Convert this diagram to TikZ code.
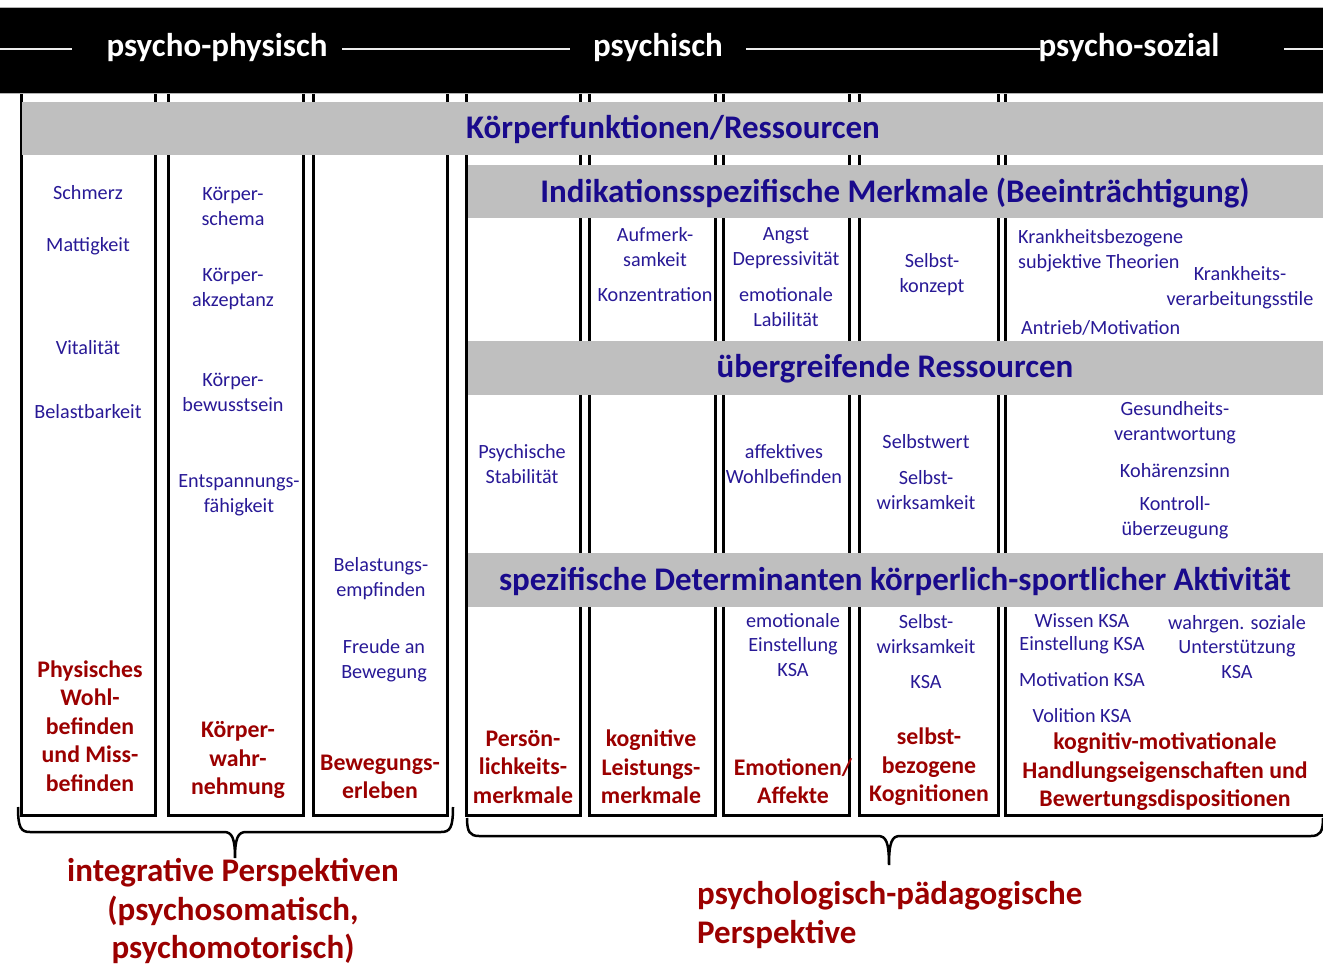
\documentclass[tikz,border=0pt]{standalone}
\usepackage{fontspec}
\setmainfont{Carlito}
\definecolor{bandgray}{RGB}{191,191,191}
\definecolor{itemblue}{RGB}{40,25,150}
\definecolor{headblue}{RGB}{25,10,140}
\definecolor{keyred}{RGB}{155,0,0}

\begin{document}
\begin{tikzpicture}[x=1pt,y=-1pt,
    box/.style={draw=black,line width=3pt},
    rule/.style={draw=white!85!gray,line width=1.3pt},
    bracket/.style={draw=black,line width=2.5pt},
    toptitle/.style={font=\fontsize{33}{36}\selectfont\bfseries,text=white,inner sep=0pt},
    head/.style={font=\fontsize{33}{36}\selectfont\bfseries,text=headblue,inner sep=0pt},
    item/.style={font=\fontsize{20.2}{24.8}\selectfont,text=itemblue,align=center,inner sep=0pt},
    key/.style={font=\fontsize{23.8}{28.5}\selectfont\bfseries,text=keyred,align=center,inner sep=0pt},
    persp/.style={font=\fontsize{33}{38.5}\selectfont\bfseries,text=keyred,inner sep=0pt}]

     \useasboundingbox (0,0) rectangle (1323,968);
     \clip (0,0) rectangle (1323,968);

     %Columns psycho-physisch
     \draw[box] (21,80) rectangle (155,815);
     \draw[box] (168,80) rectangle (303,815);
     \draw[box] (313,80) rectangle (447,815);

     %Columns psychisch and psycho-sozial
     \draw[box] (466,80) rectangle (580,815);
     \draw[box] (589,80) rectangle (715,815);
     \draw[box] (723,80) rectangle (849,815);
     \draw[box] (859,80) rectangle (998,815);
     \draw[box] (1005,80) rectangle (1340,815);

     %Grey bands
     \fill[bandgray] (22,102) rectangle (1330,155);
     \fill[bandgray] (467.5,165) rectangle (1330,218);
     \fill[bandgray] (467.5,341) rectangle (1330,395);
     \fill[bandgray] (467.5,553) rectangle (1330,607);

     %Top bar
     \draw[fill=black,draw=gray!60,line width=.8pt] (-5,7) rectangle (1330,93);
     \draw[rule](0,49)--(72,49);
     \draw[rule](342,49)--(570,49);
     \draw[rule](746,49)--(1040,49);
     \draw[rule](1284,49)--(1330,49);
     \node[toptitle] (phys) at (217,48) {psycho-physisch};
     \node[toptitle] (psych) at (658,48) {psychisch};
     \node[toptitle] (soz) at (1129,48) {psycho-sozial};

     %Band titles
     \node[head] (kf) at (673,129) {Körperfunktionen/Ressourcen};
     \node[head] (ind) at (895,193) {Indikationsspezifische Merkmale (Beeinträchtigung)};
     \node[head] (ueb) at (895,369) {übergreifende Ressourcen};
     \node[head] (det) at (895,581) {spezifische Determinanten körperlich-sportlicher Aktivität};

     %Column 1
     \node[item] (schm) at (88,193) {Schmerz};
     \node[item] (matt) at (88,246) {Mattigkeit};
     \node[item] (vital) at (88,348) {Vitalität};
     \node[item] (belb) at (88,412) {Belastbarkeit};
     \node[key] (wohl) at (90,726) {Physisches\\Wohl-\\befinden\\und Miss-\\befinden};

     %Column 2
     \node[item] (ksch) at (233,206) {Körper-\\schema};
     \node[item] (kakz) at (233,289) {Körper-\\akzeptanz};
     \node[item] (kbew) at (233,392) {Körper-\\bewusstsein};
     \node[item] (entsp) at (239,495) {Entspannungs-\\fähigkeit};
     \node[key] (kwahr) at (238,760) {Körper-\\wahr-\\nehmung};

     %Column 3
     \node[item] (bemp) at (381,579) {Belastungs-\\empfinden};
     \node[item] (freu) at (384,661) {Freude an\\Bewegung};
     \node[key] (berl) at (380,777) {Bewegungs-\\erleben};

     %Column A
     \node[item] (stab) at (522,464) {Psychische\\Stabilität};
     \node[key] (pers) at (523,767) {Persön-\\lichkeits-\\merkmale};

     %Column B
     \node[item] (aufm) at (655,247) {Aufmerk-\\samkeit};
     \node[item] (konz) at (655,295) {Konzentration};
     \node[key] (kogn) at (651,767) {kognitive\\Leistungs-\\merkmale};

     %Column C
     \node[item] (angst) at (786,248) {Angst\\Depressivität};
     \node[item] (lab) at (786,307) {emotionale\\Labilität};
     \node[item] (aff) at (784,464) {affektives\\Wohlbefinden};
     \node[item] (einst) at (793,645) {emotionale\\Einstellung\\KSA};
     \node[key] (emo) at (793,781) {Emotionen/\\Affekte};

     %Column D
     \node[item] (skon) at (932,275) {Selbst-\\konzept};
     \node[item] (swert) at (926,442) {Selbstwert};
     \node[item] (swirk) at (926,490) {Selbst-\\wirksamkeit};
     \node[item] (swksa) at (926,634) {Selbst-\\wirksamkeit};
     \node[item] (ksa) at (926,682) {KSA};
     \node[key] (sbez) at (929,767) {selbst-\\bezogene\\Kognitionen};

     %Column E
     \node[item,align=left,anchor=west] (kth) at (1018,251) {Krankheitsbezogene\\subjektive Theorien};
     \node[item] (kver) at (1240,288) {Krankheits-\\verarbeitungsstile};
     \node[item,anchor=west] (antr) at (1021,328) {Antrieb/Motivation};
     \node[item] (gesv) at (1175,423) {Gesundheits-\\verantwortung};
     \node[item] (koh) at (1175,471) {Kohärenzsinn};
     \node[item] (kontr) at (1175,518) {Kontroll-\\überzeugung};
     \node[item] (wiss) at (1082,621) {Wissen KSA};
     \node[item] (eksa) at (1082,645) {Einstellung KSA};
     \node[item] (mksa) at (1082,680) {Motivation KSA};
     \node[item] (vksa) at (1082,716) {Volition KSA};
     \node[item] (unt) at (1237,647) {wahrgen. soziale\\Unterstützung\\KSA};
     \node[key] (hand) at (1165,772) {kognitiv-motivationale\\Handlungseigenschaften und\\Bewertungsdispositionen};

     %Braces
     \coordinate (lb1) at (18,807);
     \coordinate (lb2) at (453,807);
     \coordinate (lbt) at (235,858);
     \draw[bracket](lb1) .. controls (18,828) and (21,832) .. (30,832)--(224,832)
        .. controls (232,832) and (235,838) .. (lbt)
        .. controls (235,838) and (238,832) .. (246,832)--(441,832)
        .. controls (450,832) and (453,828) .. (lb2);
     \coordinate (rb1) at (467,818);
     \coordinate (rb2) at (1323,818);
     \coordinate (rbt) at (889,865);
     \draw[bracket](rb1) .. controls (467,832) and (470,836) .. (479,836)--(878,836)
        .. controls (886,836) and (889,842) .. (rbt)
        .. controls (889,842) and (892,836) .. (900,836)--(1311,836)
        .. controls (1320,836) and (1323,832) .. (rb2);

     %Perspectives
     \node[persp,align=center] (integ) at (233,911) {integrative Perspektiven\\(psychosomatisch,\\psychomotorisch)};
     \node[persp,align=left,anchor=west] (paed) at (697,915) {psychologisch-pädagogische\\Perspektive};

\end{tikzpicture}
\end{document}
